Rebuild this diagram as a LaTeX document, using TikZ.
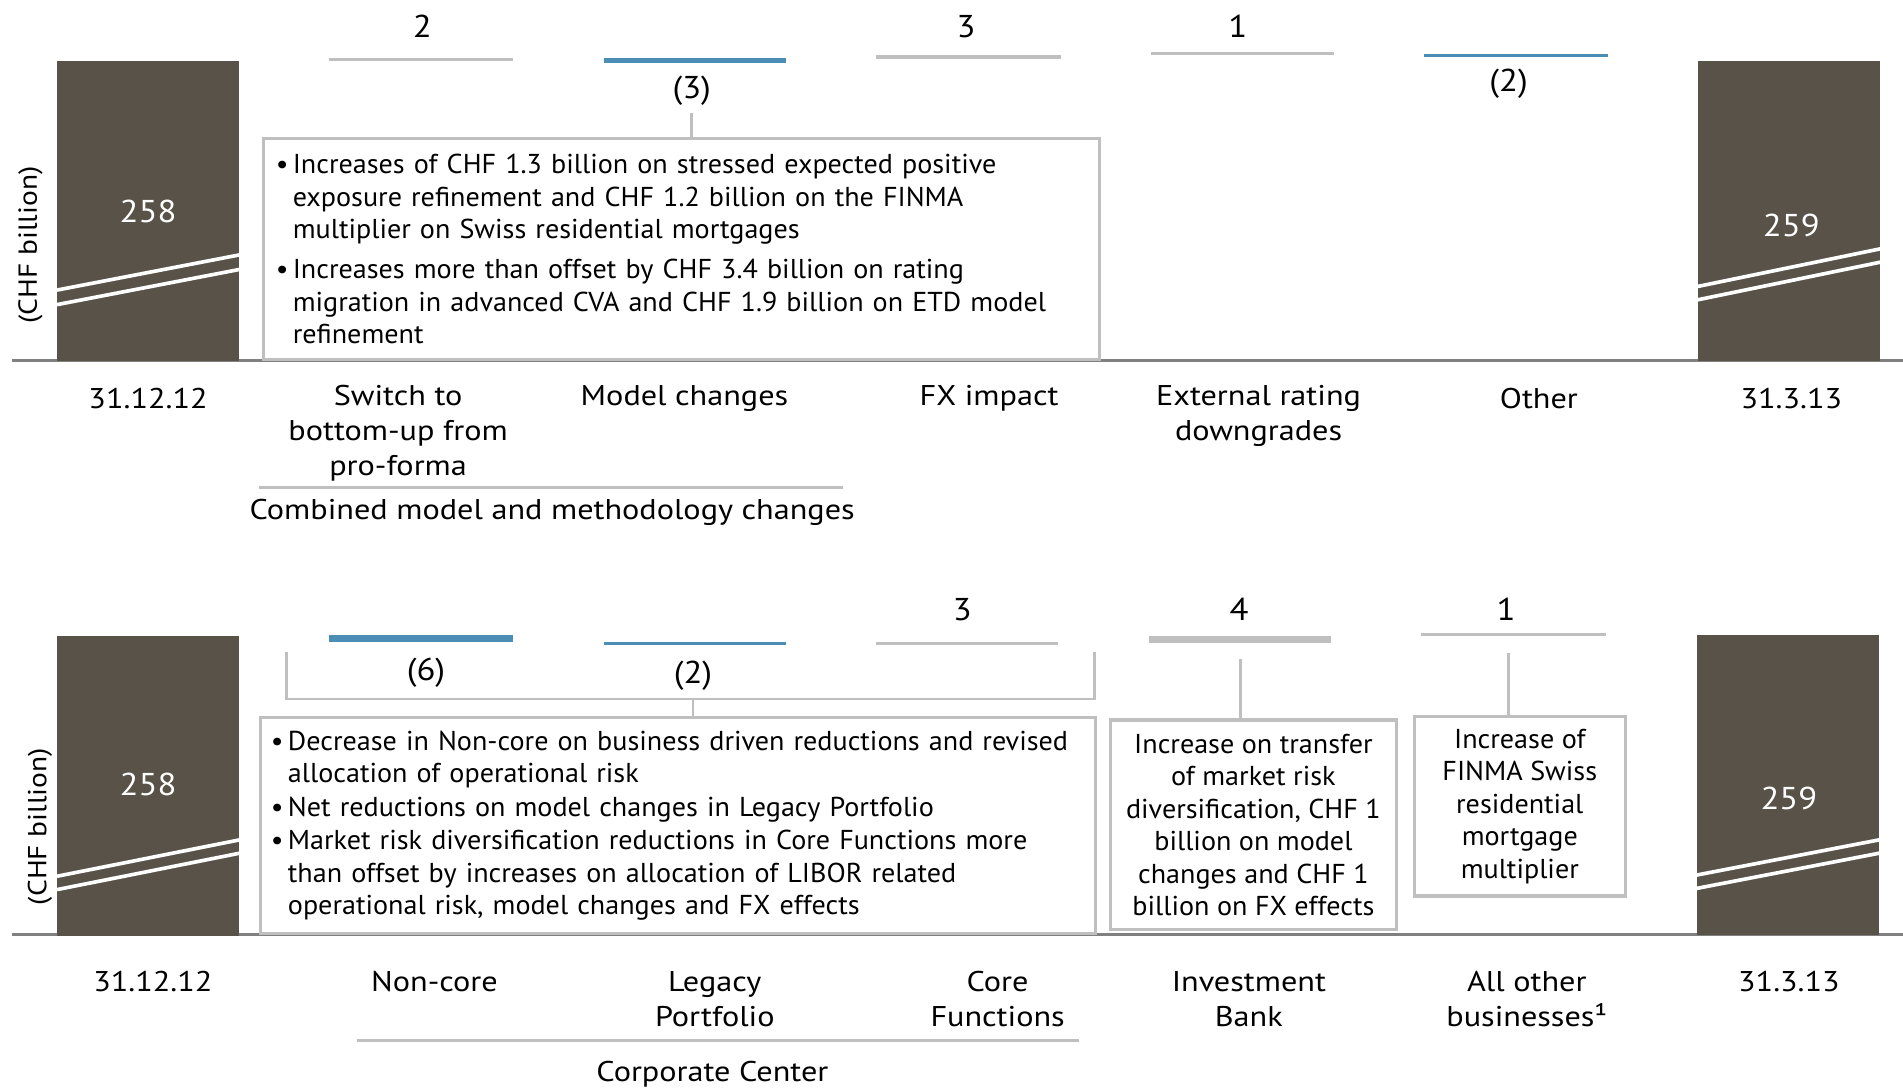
\documentclass[tikz,border=0pt]{standalone}
\usepackage{fontspec}
\setmainfont{PT Sans}
\newfontfamily\boxfont{PT Sans}[FakeStretch=1.03]
\newfontfamily\labfont{PT Sans}[FakeStretch=1.13]
\newfontfamily\numfont{PT Sans}[FakeStretch=1.1]
\definecolor{barc}{RGB}{89,82,73}
\definecolor{lgray}{RGB}{191,191,191}
\definecolor{bblue}{RGB}{75,141,180}
\definecolor{axc}{RGB}{128,128,128}
\begin{document}
\begin{tikzpicture}[x=1pt,y=-1pt,
  bar/.style={fill=barc,draw=none,minimum width=150,minimum height=247,anchor=north west,inner sep=0pt},
  brk/.style={draw=white,line width=3pt},
  gseg/.style={draw=lgray},
  bseg/.style={draw=bblue},
  lbl/.style={font=\labfont\fontsize{23.5}{29}\selectfont,inner sep=0pt,align=center},
  unit/.style={font=\labfont\fontsize{21.5}{26}\selectfont,inner sep=0pt,rotate=90},
  num/.style={font=\numfont\fontsize{26}{30}\selectfont,inner sep=0pt},
  wlbl/.style={num,text=white},
  boxtxt/.style={draw=lgray,line width=2.5pt,fill=white,font=\boxfont\fontsize{22.5}{26.8}\selectfont,anchor=north west},
  stem/.style={draw=lgray,line width=2.2pt},
  axis/.style={draw=axc,line width=2pt},
  grp/.style={draw=lgray,line width=2.5pt}
]
\useasboundingbox (0,0) rectangle (1568,897);
\newcommand{\bul}{\makebox[14pt][l]{•}}
\newcommand{\ind}{\hspace*{14pt}}

% ================= TOP PANEL =================
\coordinate (axA) at (10,297);
\coordinate (axB) at (1568,297);
\draw[axis] (axA) -- (axB);

\node[bar] (barA) at (47,50) {};
\node[wlbl] (vA) at (122,174) {258};
\draw[brk] (barA.west |- 0,239) -- (barA.east |- 0,210);
\draw[brk] (barA.west |- 0,251) -- (barA.east |- 0,222);

\node[bar] (barB) at (1399,50) {};
\node[wlbl] (vB) at (1476,186) {259};
\draw[brk] (barB.west |- 0,236) -- (barB.east |- 0,205);
\draw[brk] (barB.west |- 0,247) -- (barB.east |- 0,216);

\node[unit] (unitA) at (25,202) {(CHF billion)};

% increments
\node[num] (nA1) at (348,22) {2};
\draw[gseg,line width=2.5pt] (271,49) coordinate (sA1l) -- (423,49) coordinate (sA1r);
\draw[bseg,line width=4pt] (498,50) coordinate (sA2l) -- (648,50) coordinate (sA2r);
\node[num] (nA2) at (570,75) {(3)};
\node[num] (nA3) at (796,22) {3};
\draw[gseg,line width=4pt] (722,47) coordinate (sA3l) -- (874,47) coordinate (sA3r);
\node[num] (nA4) at (1020,22) {1};
\draw[gseg,line width=2.2pt] (948,44) coordinate (sA4l) -- (1099,44) coordinate (sA4r);
\draw[bseg,line width=2.4pt] (1173,46) coordinate (sA5l) -- (1325,46) coordinate (sA5r);
\node[num] (nA5) at (1243,69) {(2)};

\node[boxtxt,text width=669pt,inner xsep=10pt,inner ysep=0pt,minimum height=182pt,align=left] (boxA) at (216,113)
{\mbox{\bul Increases of CHF 1.3 billion on stressed expected positive}\\
\mbox{\ind exposure refinement and CHF 1.2 billion on the FINMA}\\
\mbox{\ind multiplier on Swiss residential mortgages}\\[6pt]
\mbox{\bul Increases more than offset by CHF 3.4 billion on rating}\\
\mbox{\ind migration in advanced CVA and CHF 1.9 billion on ETD model}\\
\mbox{\ind refinement}};
\coordinate (stA) at (570,93);
\draw[stem] (stA) -- (stA |- boxA.north);

% categories
\node[lbl] (cA0) at (122,328) {31.12.12};
\node[lbl] (cA1) at (328,357) {Switch to\\bottom-up from\\pro-forma};
\node[lbl] (cA2) at (564,328) {Model changes};
\node[lbl] (cA3) at (815,328) {FX impact};
\node[lbl] (cA4) at (1037,342.5) {External rating\\downgrades};
\node[lbl] (cA5) at (1268,328) {Other};
\node[lbl] (cA6) at (1476,328) {31.3.13};
\coordinate (gAl) at (213,402);
\coordinate (gAr) at (695,402);
\draw[grp] (gAl) -- (gAr);
\node[lbl] (gA) at (455,422) {Combined model and methodology changes};

% ================= BOTTOM PANEL =================
\coordinate (axC) at (10,770);
\coordinate (axD) at (1568,770);
\draw[axis] (axC) -- (axD);

\node[bar] (barC) at (47,524) {};
\node[wlbl] (vC) at (122,646) {258};
\draw[brk] (barC.west |- 0,722) -- (barC.east |- 0,692);
\draw[brk] (barC.west |- 0,733) -- (barC.east |- 0,703);

\node[bar] (barD) at (1398,523) {};
\node[wlbl] (vD) at (1474,658) {259};
\draw[brk] (barD.west |- 0,721) -- (barD.east |- 0,692);
\draw[brk] (barD.west |- 0,732) -- (barD.east |- 0,703);

\node[unit] (unitC) at (33,681) {(CHF billion)};

\draw[bseg,line width=6pt] (271,526) coordinate (sC1l) -- (423,526) coordinate (sC1r);
\node[num] (nC1) at (351,554) {(6)};
\draw[bseg,line width=2.2pt] (498,530) coordinate (sC2l) -- (648,530) coordinate (sC2r);
\node[num] (nC2) at (571,557) {(2)};
\node[num] (nC3) at (793,502) {3};
\draw[gseg,line width=2.2pt] (722,530) coordinate (sC3l) -- (872,530) coordinate (sC3r);
\node[num] (nC4) at (1021,502) {4};
\draw[gseg,line width=6pt] (947,527) coordinate (sC4l) -- (1097,527) coordinate (sC4r);
\node[num] (nC5) at (1241,502) {1};
\draw[gseg,line width=2.5pt] (1171,523) coordinate (sC5l) -- (1323,523) coordinate (sC5r);

\node[boxtxt,text width=670pt,inner xsep=9pt,inner ysep=0pt,minimum height=178pt,align=left] (boxC) at (213,590)
{\mbox{\bul Decrease in Non-core on business driven reductions and revised}\\
\mbox{\ind allocation of operational risk}\\[0.8pt]
\mbox{\bul Net reductions on model changes in Legacy Portfolio}\\[0.8pt]
\mbox{\bul Market risk diversification reductions in Core Functions more}\\
\mbox{\ind than offset by increases on allocation of LIBOR related}\\
\mbox{\ind operational risk, model changes and FX effects}};

\node[boxtxt,minimum width=235pt,minimum height=173pt,inner sep=0pt,align=center] (boxD) at (914,592)
{Increase on transfer\\of market risk\\diversification, CHF 1\\billion on model\\changes and CHF 1\\billion on FX effects};

\node[boxtxt,minimum width=174pt,minimum height=148pt,inner sep=0pt,align=center] (boxE) at (1164,589)
{Increase of\\FINMA Swiss\\residential\\mortgage\\multiplier};

\coordinate (brL) at (236,537);
\coordinate (brR) at (902,537);
\coordinate (brM) at (571,576);
\draw[stem] (brL) |- (brM) -| (brR);
\draw[stem] (brM) -- (brM |- boxC.north);
\coordinate (stD) at (1022,543);
\draw[stem] (stD) -- (stD |- boxD.north);
\coordinate (stE) at (1243,538);
\draw[stem] (stE) -- (stE |- boxE.north);

\node[lbl] (cC0) at (126,809) {31.12.12};
\node[lbl] (cC1) at (358,809) {Non-core};
\node[lbl] (cC2) at (589,823) {Legacy\\Portfolio};
\node[lbl] (cC3) at (822,823) {Core\\Functions};
\node[lbl] (cC4) at (1029,823) {Investment\\Bank};
\node[lbl] (cC5) at (1258,823) {All other\\businesses¹};
\node[lbl] (cC6) at (1474,809) {31.3.13};
\coordinate (gCl) at (294,857);
\coordinate (gCr) at (889,857);
\draw[grp] (gCl) -- (gCr);
\node[lbl] (gC) at (587,885) {Corporate Center};
\end{tikzpicture}
\end{document}
